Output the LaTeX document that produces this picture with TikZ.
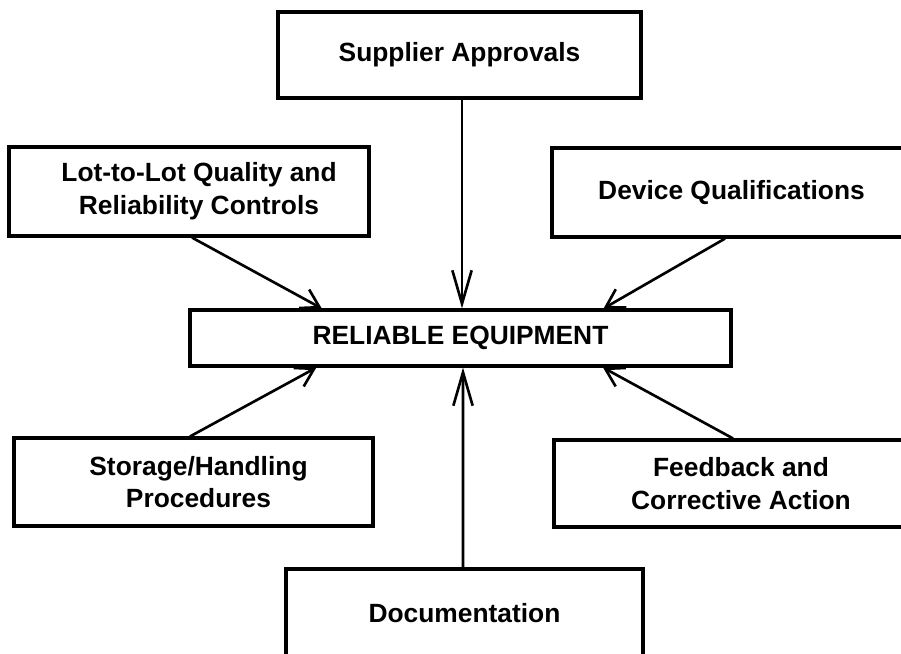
\documentclass[tikz,border=0pt]{standalone}
\usepackage{fontspec}
\setmainfont{Liberation Sans}
\usetikzlibrary{arrows.meta,calc}

\begin{document}
\begin{tikzpicture}[x=0.02cm, y=-0.02cm,
	every node/.style={font=\fontsize{15}{18.7}\selectfont\bfseries, align=center},
	box/.style={draw, line width=1.8pt, inner sep=0pt},
	feed/.style={line width=1.5pt, -{Straight Barb[length=10pt, width=12pt]}},
	feedv/.style={line width=1.5pt, -{Straight Barb[length=19pt, width=11pt]}}]
	
	% page
	\useasboundingbox (0, 0) rectangle (901, 653);
	\clip (0, 0) rectangle (901, 653);
	
	% centre box
	\node[box, minimum width=10.82cm, minimum height=1.12cm] (equip) at (460.5, 338) {RELIABLE EQUIPMENT};
	
	% feeding boxes
	\node[box, minimum width=7.26cm, minimum height=1.72cm] (suppl) at (459.5, 55) {Supplier Approvals};
	\node[box, minimum width=7.2cm, minimum height=1.78cm] (lotqc) at (189, 191.5) {\hspace*{0.4cm}Lot-to-Lot Quality and\\\hspace*{0.4cm}Reliability Controls};
	\node[box, minimum width=7.18cm, minimum height=1.78cm] (devqual) at (731.5, 192.5) {Device Qualifications};
	\node[box, minimum width=7.18cm, minimum height=1.76cm] (store) at (193.5, 482) {\hspace*{0.2cm}Storage/Handling\\\hspace*{0.2cm}Procedures};
	\node[box, minimum width=7.48cm, minimum height=1.74cm] (fback) at (741, 483.5) {Feedback and\\Corrective Action};
	\node[box, minimum width=7.14cm, minimum height=1.76cm] (docu) at (464.5, 613) {Documentation};
	
	% arrow tips on the centre box
	\coordinate (tipnw) at ($(equip.north west)!0.245!(equip.north east)$);
	\coordinate (tipne) at ($(equip.north west)!0.763!(equip.north east)$);
	\coordinate (tipsw) at ($(equip.south west)!0.235!(equip.south east)$);
	\coordinate (tipse) at ($(equip.south west)!0.762!(equip.south east)$);
	
	% arrows
	\draw[feedv] ($(suppl.south)+(2.5, 0)$) -- ($(equip.north)+(1.5, 0)$);
	\draw[feed] ($(lotqc.south)+(3, 0)$) -- (tipnw);
	\draw[feed] ($(devqual.south)+(-6.5, 0)$) -- (tipne);
	\draw[feedv] ($(docu.north)+(-1.5, 0)$) -- ($(equip.south)+(2.5, 0)$);
	\draw[feed] ($(store.north)+(-3.5, 0)$) -- (tipsw);
	\draw[feed] ($(fback.north)+(-8, 0)$) -- (tipse);
\end{tikzpicture}
\end{document}
